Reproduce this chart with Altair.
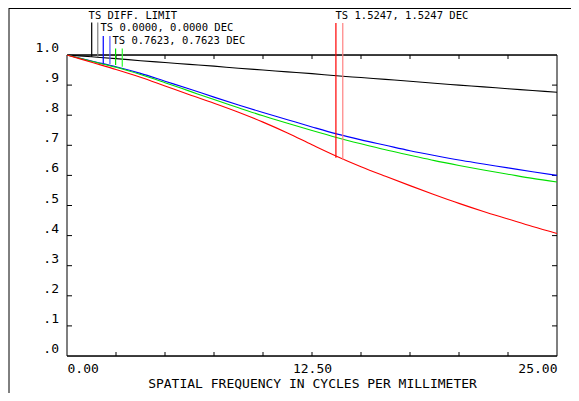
import altair as alt
import pandas as pd

# ---- data ----
freq = [0, 1.25, 2.5, 3.75, 5, 6.25, 7.5, 8.75, 10, 11.25, 12.5, 13.75,
        15, 16.25, 17.5, 18.75, 20, 21.25, 22.5, 23.75, 25]
mtf_diff = [1.0, 0.994, 0.988, 0.981, 0.975, 0.969, 0.963, 0.956, 0.950, 0.944,
            0.938, 0.931, 0.925, 0.919, 0.913, 0.906, 0.900, 0.894, 0.888, 0.882, 0.876]
mtf_f0 = [1.0, 0.980, 0.961, 0.939, 0.913, 0.887, 0.860, 0.834, 0.809, 0.785,
          0.761, 0.738, 0.718, 0.700, 0.682, 0.666, 0.651, 0.638, 0.625, 0.612, 0.600]
mtf_f1 = [1.0, 0.979, 0.959, 0.935, 0.908, 0.880, 0.852, 0.825, 0.798, 0.773,
          0.749, 0.726, 0.705, 0.685, 0.667, 0.649, 0.633, 0.618, 0.604, 0.590, 0.578]
mtf_f2 = [1.0, 0.976, 0.952, 0.926, 0.897, 0.868, 0.840, 0.810, 0.777, 0.741,
          0.702, 0.664, 0.629, 0.597, 0.566, 0.536, 0.507, 0.480, 0.455, 0.430, 0.407]

series_keys = ["diff", "f0", "f1", "f2"]
series_labels = ["TS DIFF. LIMIT", "TS 0.0000, 0.0000 DEC",
                 "TS 0.7623, 0.7623 DEC", "TS 1.5247, 1.5247 DEC"]
# legend marker lines (T and S) : frequency, top value, end value
leg_key = ["diff_T", "diff_S", "f0_T", "f0_S", "f1_T", "f1_S", "f2_T", "f2_S"]
leg_freq = [1.26, 1.57, 1.85, 2.19, 2.48, 2.82, 13.72, 14.07]
leg_top = [1.108, 1.108, 1.063, 1.063, 1.022, 1.022, 1.106, 1.106]
leg_end = [0.994, 0.993, 0.972, 0.970, 0.967, 0.961, 0.659, 0.651]
# legend label anchors
lab_freq = [1.10, 1.71, 2.32, 13.70]
lab_val = [1.12, 1.08, 1.037, 1.12]

x_tick_vals = [2.5, 5, 7.5, 10, 12.5, 15, 17.5, 20, 22.5]
y_tick_vals = [0.1, 0.2, 0.3, 0.4, 0.5, 0.6, 0.7, 0.8, 0.9]
x_label_vals = [0, 12.5, 25]
y_label_vals = [0, 0.1, 0.2, 0.3, 0.4, 0.5, 0.6, 0.7, 0.8, 0.9, 1.0]

color_domain = ["diff_T", "diff_S", "f0_T", "f0_S", "f1_T", "f1_S", "f2_T", "f2_S"]
color_range = ["#000000", "#808080", "#0000ff", "#5050ff", "#00e000", "#30ff30", "#ff0000", "#ff8080"]

W, H = 490, 301
FONT = "DejaVu Sans Mono"
AX_FS = 13

curves = pd.DataFrame({
    "freq": freq * 4,
    "mtf": mtf_diff + mtf_f0 + mtf_f1 + mtf_f2,
    "key": sum([[k + "_T"] * len(freq) for k in series_keys], []),
})
legend_lines = pd.DataFrame({"freq": leg_freq, "top": leg_top, "end": leg_end, "key": leg_key})
labels = pd.DataFrame({"freq": lab_freq, "val": lab_val, "text": series_labels})
xt = pd.DataFrame({"freq": x_tick_vals})
yt = pd.DataFrame({"val": y_tick_vals})

xscale = alt.Scale(domain=[0, 25], nice=False, zero=False)
yscale = alt.Scale(domain=[0, 1], nice=False, zero=False)
cscale = alt.Scale(domain=color_domain, range=color_range)

xaxis = alt.Axis(values=x_label_vals, format=".2f", labelFlush=True, ticks=False, domain=False,
                 grid=False, labelFont=FONT, labelFontSize=AX_FS, labelColor="black",
                 labelOverlap=False,
                 labelPadding=6, title="SPATIAL FREQUENCY IN CYCLES PER MILLIMETER",
                 titleFont=FONT, titleFontSize=AX_FS, titleFontWeight="normal",
                 titleColor="black", titlePadding=2)
yaxis = alt.Axis(values=y_label_vals, ticks=False, domain=False, grid=False,
                 labelExpr="datum.value >= 1 ? '1.0' : '.' + round(datum.value * 10)",
                 labelFont=FONT, labelFontSize=AX_FS, labelColor="black", labelOverlap=False,
                 labelPadding=8.5, labelBaseline="alphabetic", labelOffset=-3.5, title=None)


def X(field):
    return alt.X(field, scale=xscale, axis=xaxis)


def Y(field):
    return alt.Y(field, scale=yscale, axis=yaxis)


lines = alt.Chart(curves).mark_line(strokeWidth=1.1, interpolate="monotone").encode(
    x=X("freq:Q"), y=Y("mtf:Q"),
    color=alt.Color("key:N", scale=cscale, legend=None),
)

leg = alt.Chart(legend_lines).mark_rule(strokeWidth=1.2).encode(
    x=X("freq:Q"), y=Y("top:Q"), y2="end:Q",
    color=alt.Color("key:N", scale=cscale, legend=None),
)

txt = alt.Chart(labels).mark_text(align="left", baseline="alphabetic", dx=0,
                                  font=FONT, fontSize=10.5, color="black").encode(
    x=X("freq:Q"), y=Y("val:Q"), text="text:N")

# plot frame
frame_lr = alt.Chart(pd.DataFrame({"freq": [0, 25]})).mark_rule(color="#7f7f7f", strokeWidth=2).encode(
    x=X("freq:Q"), y=alt.value(0), y2=alt.value(H))
frame_tb = alt.Chart(pd.DataFrame({"val": [0, 1]})).mark_rule(color="black", strokeWidth=1.3).encode(
    y=Y("val:Q"), x=alt.value(0), x2=alt.value(W))

# inward ticks
tick_b = alt.Chart(xt).mark_rule(color="black").encode(x=X("freq:Q"), y=alt.value(H), y2=alt.value(H - 4))
tick_t = alt.Chart(xt).mark_rule(color="black").encode(x=X("freq:Q"), y=alt.value(0), y2=alt.value(4))
tick_l = alt.Chart(yt).mark_rule(color="black").encode(y=Y("val:Q"), x=alt.value(0), x2=alt.value(5))
tick_r = alt.Chart(yt).mark_rule(color="black").encode(y=Y("val:Q"), x=alt.value(W), x2=alt.value(W - 5))

# outer page frame (left and top edges)
outer_l = alt.Chart(pd.DataFrame({"a": [0]})).mark_rule(color="black").encode(
    x=alt.value(-58), y=alt.value(-47), y2=alt.value(H + 37))
outer_t = alt.Chart(pd.DataFrame({"a": [0]})).mark_rule(color="black").encode(
    y=alt.value(-46.5), x=alt.value(-58), x2=alt.value(W + 14))

chart = alt.layer(frame_lr, frame_tb, tick_b, tick_t, tick_l, tick_r,
                  lines, leg, txt, outer_l, outer_t).properties(
    width=W, height=H,
    autosize=alt.AutoSizeParams(type="none"),
    padding={"left": 59, "top": 47, "right": 14, "bottom": 37},
).configure_view(stroke=None).configure(background="white")

chart.save("out.html", embed_options={"renderer": "svg", "actions": False})
